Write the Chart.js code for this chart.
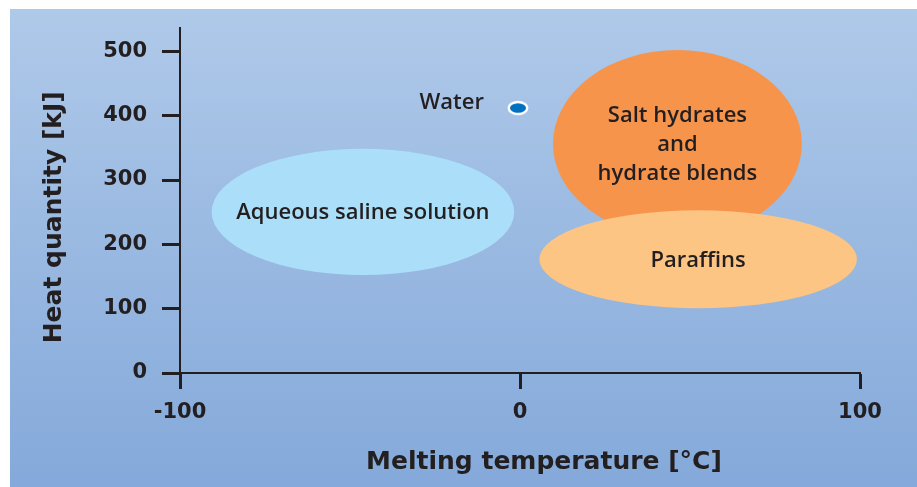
<!DOCTYPE html>
<html>
<head>
<meta charset="utf-8">
<script src="https://cdn.jsdelivr.net/npm/chart.js@4.4.1/dist/chart.umd.min.js"></script>
<style>
html,body{margin:0;padding:0;background:#fff;overflow:hidden}
#wrap{width:917px;height:487px;position:relative}
</style>
</head>
<body>
<div id="wrap"><canvas id="c" width="917" height="487"></canvas></div>
<script>
// ---- data ----
const regionLabels = [['Aqueous saline solution'], ['Salt hydrates', 'and', 'hydrate blends'], ['Paraffins']];
const regionTempCenter = [-46.2, 46.3, 52.4];      // °C
const regionHeatCenter = [250.4, 356.4, 176.8];    // kJ
const regionTempHalfRange = [44.5, 36.6, 46.7];    // °C
const regionHeatHalfRange = [98.1, 145.7, 76.2];   // kJ
const regionColors = ['#abdff9', '#f6944c', '#fcc584'];
const pointLabels = ['Water'];
const pointTemp = [-0.6];
const pointHeat = [412];
const xTickValues = [-100, 0, 100];
const yTickValues = [0, 100, 200, 300, 400, 500];
const xTitle = 'Melting temperature [°C]';
const yTitle = 'Heat quantity [kJ]';

const INK = '#231f20';
const labelFont = '600 22px "Open Sans", sans-serif';
const axisFont = 'DejaVu Sans';

// elliptical marker for the water point
function makeWaterMarker() {
  const cv = document.createElement('canvas');
  cv.width = 24; cv.height = 18;
  const g = cv.getContext('2d');
  g.beginPath();
  g.ellipse(12, 9, 9.2, 6.0, 0, 0, Math.PI * 2);
  g.fillStyle = '#0070c0';
  g.fill();
  g.lineWidth = 2.4;
  g.strokeStyle = '#ffffff';
  g.stroke();
  return cv;
}

const bgPlugin = {
  id: 'bg',
  beforeDraw(chart) {
    const ctx = chart.ctx;
    ctx.save();
    ctx.fillStyle = '#ffffff';
    ctx.fillRect(0, 0, chart.width, chart.height);
    const grd = ctx.createLinearGradient(0, 9, 0, chart.height);
    grd.addColorStop(0, '#afc9e9');
    grd.addColorStop(1, '#84a9da');
    ctx.fillStyle = grd;
    ctx.fillRect(10, 9, chart.width - 10, chart.height - 9);
    ctx.restore();
  }
};

const regionPlugin = {
  id: 'regions',
  beforeDatasetsDraw(chart) {
    const {ctx, scales: {x, y}} = chart;
    ctx.save();
    const geo = regionLabels.map((_, i) => {
      const cx = x.getPixelForValue(regionTempCenter[i]);
      const cy = y.getPixelForValue(regionHeatCenter[i]);
      const rx = Math.abs(x.getPixelForValue(regionTempCenter[i] + regionTempHalfRange[i]) - cx);
      const ry = Math.abs(y.getPixelForValue(regionHeatCenter[i] + regionHeatHalfRange[i]) - cy);
      return {cx, cy, rx, ry};
    });
    geo.forEach((g, i) => {
      ctx.beginPath();
      ctx.ellipse(g.cx, g.cy, g.rx, g.ry, 0, 0, Math.PI * 2);
      ctx.fillStyle = regionColors[i];
      ctx.fill();
    });
    ctx.fillStyle = INK;
    ctx.font = labelFont;
    ctx.textAlign = 'center';
    ctx.textBaseline = 'middle';
    const lh = 29;
    geo.forEach((g, i) => {
      const lines = regionLabels[i];
      const y0 = g.cy - (lines.length - 1) * lh / 2 + 1;
      lines.forEach((t, k) => ctx.fillText(t, g.cx, y0 + k * lh));
    });
    ctx.restore();
  },
  afterDatasetsDraw(chart) {
    const {ctx} = chart;
    const meta = chart.getDatasetMeta(0);
    ctx.save();
    ctx.fillStyle = INK;
    ctx.font = labelFont;
    ctx.textAlign = 'right';
    ctx.textBaseline = 'middle';
    meta.data.forEach((pt, i) => {
      ctx.fillText(pointLabels[i], pt.x - 34, pt.y - 5);
    });
    ctx.restore();
  },
  afterDraw(chart) {
    const {ctx, chartArea} = chart;
    ctx.save();
    ctx.fillStyle = INK;
    ctx.font = 'bold 25px "' + axisFont + '"';
    ctx.textAlign = 'center';
    ctx.textBaseline = 'middle';
    ctx.fillText(xTitle, chartArea.left + (chartArea.right - chartArea.left) / 2 + 24, 462);
    ctx.translate(54, chartArea.top + (chartArea.bottom - chartArea.top) / 2 + 17);
    ctx.rotate(-Math.PI / 2);
    ctx.fillText(yTitle, 0, 0);
    ctx.restore();
  }
};

new Chart(document.getElementById('c'), {
  type: 'scatter',
  data: {
    datasets: [{
      label: 'Water',
      data: pointTemp.map((t, i) => ({x: t, y: pointHeat[i]})),
      pointStyle: makeWaterMarker(),
      pointRadius: 9
    }]
  },
  options: {
    responsive: false,
    animation: false,
    events: [],
    layout: {padding: {left: 0, right: 57, top: 27, bottom: 0}},
    plugins: {legend: {display: false}, tooltip: {enabled: false}},
    scales: {
      x: {
        type: 'linear', min: -100, max: 100,
        afterBuildTicks: s => { s.ticks = xTickValues.map(v => ({value: v})); },
        afterFit: s => { s.height = 114; },
        ticks: {color: INK, padding: 11, font: {family: axisFont, weight: 'bold', size: 21}},
        grid: {drawOnChartArea: false, drawTicks: true, tickLength: 16, tickWidth: 3, tickColor: INK},
        border: {display: true, color: INK, width: 2}
      },
      y: {
        type: 'linear', min: 0, max: 537,
        afterBuildTicks: s => { s.ticks = yTickValues.map(v => ({value: v})); },
        afterFit: s => { s.width = 180; },
        ticks: {color: INK, padding: 15, font: {family: axisFont, weight: 'bold', size: 21}},
        grid: {drawOnChartArea: false, drawTicks: true, tickLength: 18, tickWidth: 3, tickColor: INK},
        border: {display: true, color: INK, width: 2}
      }
    }
  },
  plugins: [bgPlugin, regionPlugin]
});
</script>
</body>
</html>
